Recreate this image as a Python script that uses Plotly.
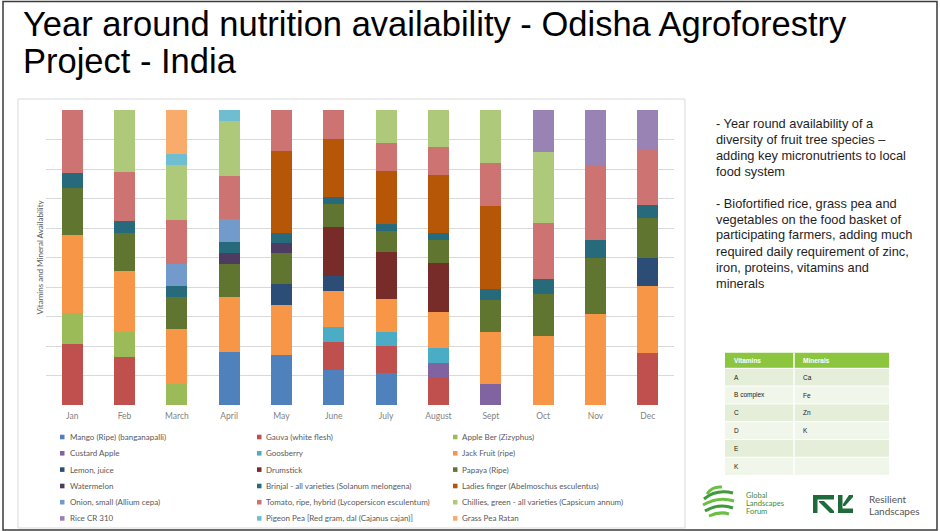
import plotly.graph_objects as go

W, H = 940, 531

months = ["Jan", "Feb", "March", "April", "May", "June", "July", "August", "Sept", "Oct", "Nov", "Dec"]

# share of availability (%) per month
mango        = [0, 0, 0, 18.1, 16.8, 11.9, 10.7, 0, 0, 0, 0, 0]
gauva        = [20.6, 16.4, 0, 0, 0, 9.6, 9.3, 9.4, 0, 0, 0, 17.7]
apple_ber    = [10.5, 8.2, 7.0, 0, 0, 0, 0, 0, 0, 0, 0, 0]
custard      = [0, 0, 0, 0, 0, 0, 0, 4.7, 7.0, 0, 0, 0]
goosberry    = [0, 0, 0, 0, 0, 5.1, 4.6, 5.1, 0, 0, 0, 0]
jack_fruit   = [26.5, 20.8, 18.6, 18.6, 17.2, 12.1, 11.4, 12.2, 17.6, 23.4, 30.7, 22.7]
lemon        = [0, 0, 0, 0, 7.0, 5.1, 0, 0, 0, 0, 0, 9.3]
drumstick    = [0, 0, 0, 0, 0, 16.7, 15.9, 16.9, 0, 0, 0, 0]
papaya       = [16.0, 12.8, 11.1, 11.1, 10.6, 7.6, 7.0, 7.6, 11.0, 14.2, 19.0, 13.8]
watermelon   = [0, 0, 0, 3.8, 3.2, 0, 0, 0, 0, 0, 0, 0]
brinjal      = [5.2, 4.2, 3.7, 3.5, 3.4, 2.4, 2.3, 2.3, 3.6, 5.0, 6.4, 4.3]
ladies       = [0, 0, 0, 0, 28.0, 19.8, 18.2, 19.8, 28.4, 0, 0, 0]
onion        = [0, 0, 7.3, 7.8, 0, 0, 0, 0, 0, 0, 0, 0]
tomato       = [21.1, 16.7, 15.1, 14.7, 13.8, 9.8, 9.3, 9.6, 14.4, 19.0, 24.9, 18.6]
chillies     = [0, 20.9, 18.4, 18.6, 0, 0, 11.3, 12.4, 18.1, 24.1, 0, 0]
rice         = [0, 0, 0, 0, 0, 0, 0, 0, 0, 14.4, 19.0, 13.6]
pigeon_pea   = [0, 0, 4.0, 3.7, 0, 0, 0, 0, 0, 0, 0, 0]
grass_pea    = [0, 0, 14.7, 0, 0, 0, 0, 0, 0, 0, 0, 0]

series_names = [
    "Mango (Ripe) (banganapalli)", "Gauva (white flesh)", "Apple Ber (Zizyphus)",
    "Custard Apple", "Goosberry", "Jack Fruit (ripe)",
    "Lemon, juice", "Drumstick", "Papaya (Ripe)",
    "Watermelon", "Brinjal - all varieties (Solanum melongena)", "Ladies finger (Abelmoschus esculentus)",
    "Onion, small (Allium cepa)", "Tomato, ripe, hybrid (Lycopersicon esculentum)",
    "Chillies, green - all varieties (Capsicum annum)",
    "Rice CR 310", "Pigeon Pea [Red gram, dal (Cajanus cajan)]", "Grass Pea Ratan",
]
series_values = [mango, gauva, apple_ber, custard, goosberry, jack_fruit, lemon, drumstick,
                 papaya, watermelon, brinjal, ladies, onion, tomato, chillies, rice,
                 pigeon_pea, grass_pea]
series_colors = ["#4F81BD", "#C0504D", "#9BBB59", "#8064A2", "#4BACC6", "#F79646",
                 "#2C4D75", "#772C2A", "#5F7530", "#4D3B62", "#276A7C", "#B65708",
                 "#729ACA", "#CD7371", "#AFC97A", "#9983B5", "#6FBDD1", "#F9AB6B"]

title_lines = ["Year around nutrition availability - Odisha Agroforestry", "Project - India"]
y_title = "Vitamins and Mineral Availability"

side_lines_1 = ["- Year round availability of a", "diversity of fruit tree species \u2013",
                "adding key micronutrients to local", "food system"]
side_lines_2 = ["- Biofortified rice, grass pea and", "vegetables on the food basket of",
                "participating farmers, adding much", "required daily requirement of zinc,",
                "iron, proteins, vitamins and", "minerals"]

table_header = ["Vitamins", "Minerals"]
vitamins = ["A", "B complex", "C", "D", "E", "K"]
minerals = ["Ca", "Fe", "Zn", "K", "", ""]


def px(x):
    return x / W


def py(y):
    return 1 - y / H


fig = go.Figure()
for name, vals, col in zip(series_names, series_values, series_colors):
    fig.add_trace(go.Bar(x=months, y=vals, name=name,
                         marker=dict(color=col, line=dict(width=0))))

shapes = []
annotations = []

# slide border and chart box
shapes.append(dict(type="rect", xref="paper", yref="paper", x0=px(3), x1=px(937), y0=py(530), y1=py(1.5),
                   line=dict(color="#3A3A3A", width=1.5), fillcolor="rgba(0,0,0,0)"))
shapes.append(dict(type="rect", xref="paper", yref="paper", x0=px(18), x1=px(685), y0=py(528), y1=py(99),
                   line=dict(color="#D9D9D9", width=1), fillcolor="rgba(0,0,0,0)"))

# title
for i, t in enumerate(title_lines):
    annotations.append(dict(text=t, xref="paper", yref="paper", x=px(21), y=py(23.5 + 37.5 * i),
                            xanchor="left", yanchor="middle", showarrow=False,
                            font=dict(family="Liberation Sans, Arial", size=34.5, color="#000000")))

# y axis title
annotations.append(dict(text=y_title, xref="paper", yref="paper", x=px(39.5), y=py(257),
                        xanchor="center", yanchor="middle", textangle=-90, showarrow=False,
                        font=dict(family="Lato", size=8, color="#595959")))

# manual legend (3 columns, row-major as in the reference)
col_mx = [60, 257, 453]
col_tx = [68, 264, 460]
row_y = [437, 453.3, 469.6, 486, 502.2, 518.4]
for i, (name, col) in enumerate(zip(series_names, series_colors)):
    r, c = divmod(i, 3)
    yc = row_y[r]
    shapes.append(dict(type="rect", xref="paper", yref="paper", x0=px(col_mx[c]), x1=px(col_mx[c] + 4.5),
                       y0=py(yc + 2.3), y1=py(yc - 2.3), line=dict(width=0), fillcolor=col))
    annotations.append(dict(text=name, xref="paper", yref="paper", x=px(col_tx[c]), y=py(yc),
                            xanchor="left", yanchor="middle", showarrow=False,
                            font=dict(family="Lato", size=8, color="#595959")))

# side text
for i, t in enumerate(side_lines_1):
    annotations.append(dict(text=t, xref="paper", yref="paper", x=px(714), y=py(123.5 + 16 * i),
                            xanchor="left", yanchor="middle", showarrow=False,
                            font=dict(family="Liberation Sans, Arial", size=12.8, color="#1E1E1E")))
for i, t in enumerate(side_lines_2):
    annotations.append(dict(text=t, xref="paper", yref="paper", x=px(714), y=py(203 + 16 * i),
                            xanchor="left", yanchor="middle", showarrow=False,
                            font=dict(family="Liberation Sans, Arial", size=12.8, color="#1E1E1E")))

# table
tx0, tdiv, tx1 = 725, 794, 889
hy0, hy1 = 352.7, 368.3
row_h = 17.8
shapes.append(dict(type="rect", xref="paper", yref="paper", x0=px(tx0), x1=px(tx1), y0=py(hy1), y1=py(hy0),
                   line=dict(width=0), fillcolor="#8CC63F"))
for j, h in enumerate(table_header):
    annotations.append(dict(text="<b>" + h + "</b>", xref="paper", yref="paper",
                            x=px([tx0, tdiv][j] + 7), y=py((hy0 + hy1) / 2),
                            xanchor="left", yanchor="middle", showarrow=False,
                            font=dict(family="Liberation Sans, Arial", size=6.5, color="#FFFFFF")))
for i, (v, m) in enumerate(zip(vitamins, minerals)):
    ya = hy1 + row_h * i
    yb = ya + row_h
    shapes.append(dict(type="rect", xref="paper", yref="paper", x0=px(tx0), x1=px(tx1), y0=py(yb), y1=py(ya),
                       line=dict(width=0), fillcolor="#E4EED8" if i % 2 == 0 else "#F1F6EA"))
    for j, t in enumerate([v, m]):
        if t:
            annotations.append(dict(text=t, xref="paper", yref="paper",
                                    x=px([tx0, tdiv][j] + 7), y=py((ya + yb) / 2),
                                    xanchor="left", yanchor="middle", showarrow=False,
                                    font=dict(family="Liberation Sans, Arial", size=6.5, color="#1A1A1A")))
# white cell borders
shapes.append(dict(type="line", xref="paper", yref="paper", x0=px(tdiv), x1=px(tdiv), y0=py(hy1 + 6 * row_h),
                   y1=py(hy0), line=dict(color="#FFFFFF", width=1.5)))
for i in range(1, 7):
    yy = hy1 + row_h * (i - 1)
    shapes.append(dict(type="line", xref="paper", yref="paper", x0=px(tx0), x1=px(tx1), y0=py(yy), y1=py(yy),
                       line=dict(color="#FFFFFF", width=1)))


def path(points_str):
    out = []
    for tok in points_str.split():
        if tok[0].isalpha():
            out.append(tok)
        else:
            x, y = tok.split(",")
            out.append(f"{px(float(x)):.5f},{py(float(y)):.5f}")
    return " ".join(out)


# Global Landscapes Forum logo (approximation)
glf_strokes = [
    ("M 707,494 Q 712,486 722,487", "#6DBE45"),
    ("M 704,499 Q 716,489 733,493", "#3E9A3A"),
    ("M 703,505 Q 718,496 734,501", "#6DBE45"),
    ("M 705,511 Q 719,503 733,508", "#3E9A3A"),
    ("M 709,516 Q 720,511 729,514", "#6DBE45"),
]
for d, c in glf_strokes:
    shapes.append(dict(type="path", xref="paper", yref="paper", path=path(d),
                       line=dict(color=c, width=3)))
for i, t in enumerate(["Global", "Landscapes", "Forum"]):
    annotations.append(dict(text=t, xref="paper", yref="paper", x=px(744), y=py(495 + 8.4 * i),
                            xanchor="left", yanchor="middle", showarrow=False,
                            font=dict(family="Lato", size=7.5, color="#3C8A3C")))

# Resilient Landscapes logo (approximation)
rl_glyphs = [
    "M 813,495 L 834,495 L 834,499.5 L 817.5,499.5 L 817.5,513 L 813,513 Z",
    "M 819,501 L 824,501 L 834,511 L 834,513 L 830,513 L 819,502 Z",
    "M 838,495 L 842.5,495 L 842.5,508.5 L 853,508.5 L 853,513 L 838,513 Z",
    "M 849,495 L 853,495 L 853,497 L 845,506 L 843,506 L 843,504 Z",
]
for d in rl_glyphs:
    shapes.append(dict(type="path", xref="paper", yref="paper", path=path(d),
                       line=dict(width=0), fillcolor="#1F6B3C"))
for i, t in enumerate(["Resilient", "Landscapes"]):
    annotations.append(dict(text=t, xref="paper", yref="paper", x=px(867), y=py(499 + 12 * i),
                            xanchor="left", yanchor="middle", showarrow=False,
                            font=dict(family="Lato", size=10, color="#555555")))

fig.update_layout(
    template="none",
    barmode="stack",
    bargap=0.6,
    width=W, height=H, autosize=False,
    margin=dict(l=0, r=0, t=0, b=0, pad=0),
    showlegend=False,
    plot_bgcolor="#FFFFFF",
    paper_bgcolor="#FFFFFF",
    xaxis=dict(domain=[px(46), px(674)], showgrid=False, zeroline=False, showline=False, ticks="",
               tickfont=dict(family="Lato", size=8.5, color="#7F7F7F"), ticklabelstandoff=4),
    yaxis=dict(domain=[py(405), py(110)], range=[0, 100], dtick=10, showticklabels=False,
               showgrid=True, gridcolor="#D9D9D9", gridwidth=1, zeroline=False, showline=False, ticks=""),
    shapes=shapes,
    annotations=annotations,
)

fig.write_html("out.html",
               config={"displayModeBar": False},
               post_script="document.body.style.margin='0px';document.body.style.overflow='hidden';")
